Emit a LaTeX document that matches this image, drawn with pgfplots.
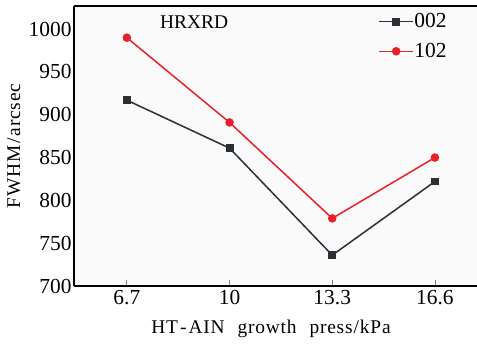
\documentclass[border=0pt]{standalone}
\usepackage{fontspec}
\setmainfont{Liberation Serif}
\usepackage{pgfplots}
\pgfplotsset{compat=1.18}
\definecolor{dk}{HTML}{2A3035}
\definecolor{rd}{HTML}{E8202A}
\begin{document}
\begin{tikzpicture}
\begin{axis}[
  scale only axis,
  width=403bp, height=280bp,
  xmin=-0.515, xmax=3.41,
  ymin=700, ymax=1027,
  xtick={0,1,2,3},
  xticklabels={6.7,10,13.3,16.6},
  ytick={700,750,800,850,900,950,1000},
  axis x line=box,
  axis y line*=left,
  axis line style={line width=1.1bp, black},
  xtick pos=bottom,
  tick align=inside,
  x tick style={gray, line width=0.8bp},
  y tick style={draw=none},
  major tick length=6bp,
  axis background/.style={fill=gray!4},
  /pgf/number format/assume math mode=true,
  /pgf/number format/1000 sep={},
  tick label style={font=\rmfamily\fontsize{21.5}{21.5}\selectfont},
  xticklabel style={yshift=-1bp},
  yticklabel style={xshift=1bp},
  xlabel={HT\hspace{2bp}-\hspace{2bp}AIN\hspace{13bp}growth\hspace{13bp}press\hspace{1bp}/\hspace{1bp}kPa},
  ylabel={FWHM\hspace{2bp}/\hspace{2bp}arcsec},
  label style={font=\rmfamily\fontsize{19.5}{19.5}\selectfont\addfontfeature{LetterSpace=4}},
  xlabel style={at={(axis description cs:0.489,-0.154)}, anchor=center},
  ylabel style={at={(axis description cs:-0.149,0.5)}, anchor=center},
  legend style={at={(0.755,0.975)}, anchor=north west, draw=none, fill=none,
    font=\rmfamily\fontsize{21.5}{21.5}\selectfont, row sep=13bp, inner sep=0pt,
    nodes={inner sep=0.5bp}},
  legend cell align=left,
  legend image code/.code={\draw[mark repeat=2,mark phase=2] plot coordinates {(0bp,0bp) (17bp,0bp) (34bp,0bp)};},
]
\addplot[dk, line width=1.5bp, mark=square*, mark size=3.2bp, mark options={solid, fill=dk}]
  coordinates {(0,917) (1,861) (2,736) (3,822)};
\addlegendentry{002}
\addplot[rd, line width=1.5bp, mark=*, mark size=3.5bp, mark options={solid, fill=rd}]
  coordinates {(0,990) (1,891) (2,779) (3,850)};
\addlegendentry{102}
\node[font=\rmfamily\fontsize{19.5}{19.5}\selectfont, anchor=center] at (rel axis cs:0.298,0.943) {HRXRD};
\end{axis}
\pgfresetboundingbox
\path ([shift={(-74bp,-62bp)}]current axis.south west) rectangle ([shift={(0bp,6bp)}]current axis.north east);
\end{tikzpicture}
\end{document}
